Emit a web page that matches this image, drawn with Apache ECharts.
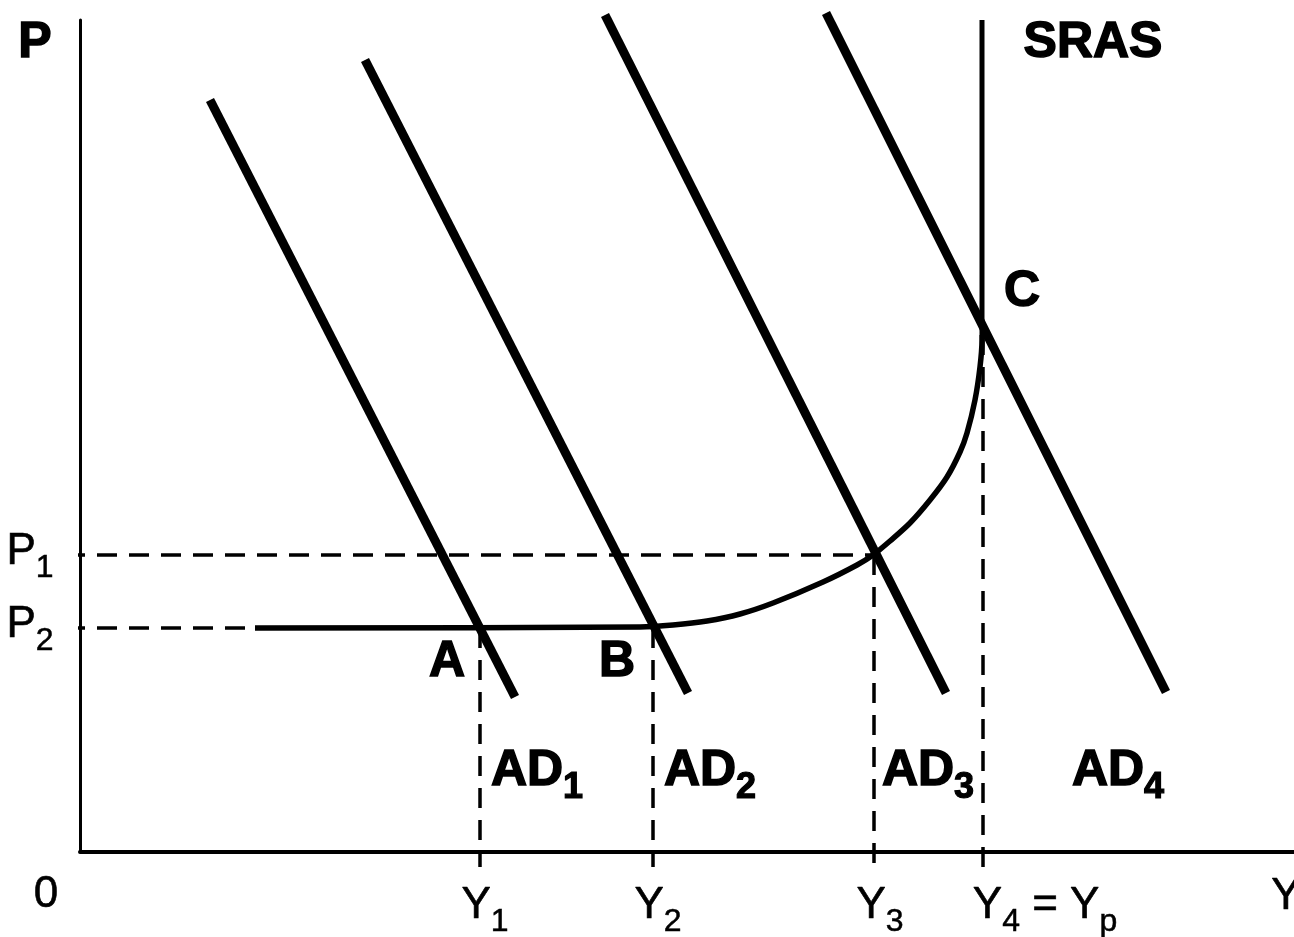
<!DOCTYPE html>
<html><head><meta charset="utf-8">
<script src="https://cdn.jsdelivr.net/npm/echarts@6/dist/echarts.min.js"></script>
<style>html,body{margin:0;padding:0;background:#fff}#c{width:1294px;height:937px}</style>
</head><body><div id="c"></div>
<script>
// Aggregate demand curves (Y, P) in chart units
const ad1 = [[13.0, 75.2], [43.5, 15.5]];
const ad2 = [[28.5, 79.2], [60.8, 15.9]];
const ad3 = [[52.5, 83.7], [86.6, 15.9]];
const ad4 = [[74.6, 83.9], [108.6, 16.0]];
// SRAS: vertical part above C and curved/flat part below it
const srasVertical = [[90.2, 83.2], [90.2, 51.7]];
const srasCurve = [[17.5, 22.4], [56.0, 22.5], [59.3, 22.7], [62.7, 23.1], [66.0, 23.8], [69.3, 24.9],
  [74.3, 27.0], [77.7, 28.7], [79.3, 29.7], [81.0, 31.1], [83.0, 32.9], [85.0, 35.2],
  [86.7, 37.5], [88.0, 40.0], [88.7, 41.9], [89.5, 45.2], [90.0, 48.5], [90.2, 51.2], [90.2, 51.7]];
// Reference levels
const P1 = 29.7, P2 = 22.4;
const Y1 = 40.0, Y2 = 57.3, Y3 = 79.4, Y4 = 90.3, PC = 51.7;
const tickEnd = -1.5;
const dashedLines = [
  [[tickEnd, P1], [Y3, P1]],
  [[tickEnd, P2], [17.5, P2]],
  [[Y1, P2], [Y1, tickEnd]],
  [[Y2, P2], [Y2, tickEnd]],
  [[Y3, P1], [Y3, tickEnd]],
  [[Y4, PC], [Y4, tickEnd]]
];
// Text labels: [markup, x, y]
const boldLabels = [
  ['{b|P}', -4.5, 80.6],
  ['{b|SRAS}', 101.3, 80.6],
  ['{b|C}', 94.2, 55.7],
  ['{b|A}', 36.7, 18.7],
  ['{b|B}', 53.7, 18.7],
  ['{b|AD}{bs|1}', 45.7, 7.8],
  ['{b|AD}{bs|2}', 63.0, 7.8],
  ['{b|AD}{bs|3}', 84.8, 7.8],
  ['{b|AD}{bs|4}', 103.8, 7.8]
];
const tickLabels = [
  ['{m|P}{s|1}', -5.0, 29.7],
  ['{m|P}{s|2}', -5.0, 22.4],
  ['{m|0}', -3.4, -4.6],
  ['{m|Y}{s|1}', 40.5, -5.7],
  ['{m|Y}{s|2}', 57.8, -5.7],
  ['{m|Y}{s|3}', 80.0, -5.7],
  ['{m|Y}{s|4}{m| = Y}{s|p}', 96.5, -5.7],
  ['{m|Y}', 120.6, -4.8]
];

const black = '#000';
function lineSeries(data, width, dashed, smooth) {
  return {
    type: 'line', data: data, symbol: 'none', smooth: smooth || false, clip: false,
    silent: true, animation: false,
    lineStyle: { color: black, width: width, type: dashed ? [20, 12] : 'solid', cap: 'butt', join: 'round' }
  };
}
const font = '"Liberation Sans", Arial, Helvetica, sans-serif';
const narrow = '"Liberation Sans Narrow", "Liberation Sans", Arial, sans-serif';

const series = [];
dashedLines.forEach(d => series.push(lineSeries(d, 3.5, true)));
[ad1, ad2, ad3, ad4].forEach(d => series.push(lineSeries(d, 9, false)));
series.push(lineSeries(srasVertical, 5, false));
series.push(lineSeries(srasCurve, 5.5, false, 0.3));

function labelSeries(list, rich) {
  return {
    type: 'scatter', symbolSize: 1, silent: true, animation: false, clip: false,
    itemStyle: { color: 'rgba(0,0,0,0)', opacity: 1 },
    data: list.map(l => ({ value: [l[1], l[2]], label: { formatter: l[0] } })),
    label: { show: true, position: 'inside', rich: rich, color: black, opacity: 1 }
  };
}
series.push(labelSeries(boldLabels, {
  b: { fontFamily: font, fontWeight: 'bold', fontSize: 50, lineHeight: 56, verticalAlign: 'top', color: black,
       textBorderColor: black, textBorderWidth: 1.5 },
  bs: { fontFamily: font, fontWeight: 'bold', fontSize: 36, lineHeight: 36, padding: [24, 0, 0, 0], verticalAlign: 'top', color: black,
       textBorderColor: black, textBorderWidth: 1.2 }
}));
series.push(labelSeries(tickLabels, {
  m: { fontFamily: narrow, fontSize: 44, lineHeight: 50, verticalAlign: 'top', color: black,
       textBorderColor: black, textBorderWidth: 0.6 },
  s: { fontFamily: narrow, fontSize: 32, lineHeight: 32, padding: [22, 0, 0, 0], verticalAlign: 'top', color: black,
       textBorderColor: black, textBorderWidth: 0.5 }
}));

const chart = echarts.init(document.getElementById('c'));
chart.setOption({
  animation: false,
  backgroundColor: '#fff',
  grid: { left: 80, right: 0, top: 20, bottom: 85 },
  xAxis: { type: 'value', min: 0, max: 121.4, axisLine: { show: true, lineStyle: { color: black, width: 4 } },
    axisTick: { show: false }, axisLabel: { show: false }, splitLine: { show: false } },
  yAxis: { type: 'value', min: 0, max: 83.2, axisLine: { show: true, lineStyle: { color: black, width: 3 } },
    axisTick: { show: false }, axisLabel: { show: false }, splitLine: { show: false } },
  series: series
});
</script></body></html>
